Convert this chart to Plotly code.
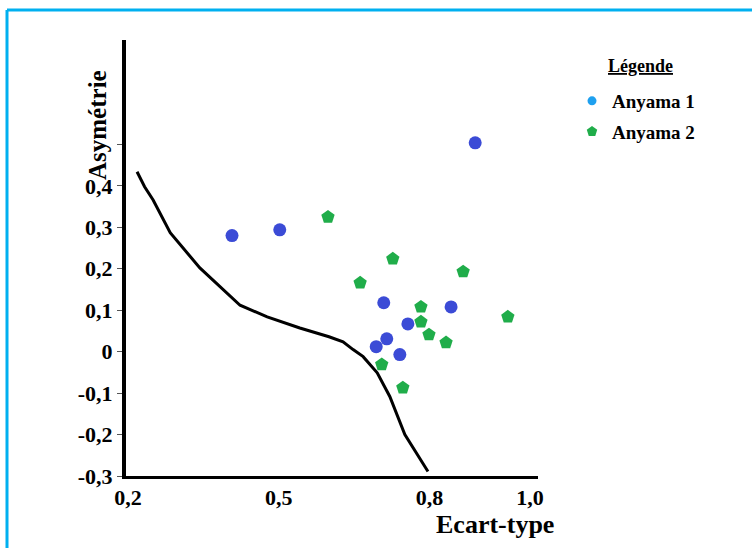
import plotly.graph_objects as go

# Courbe de référence (Ecart-type, Asymétrie)
curve_x = [0.218, 0.233, 0.250, 0.284, 0.343, 0.390, 0.423, 0.477, 0.542, 0.600, 0.628, 0.648, 0.668, 0.696, 0.721, 0.751, 0.797]
curve_y = [0.434, 0.398, 0.366, 0.287, 0.202, 0.150, 0.112, 0.084, 0.057, 0.036, 0.024, 0.005, -0.012, -0.051, -0.108, -0.200, -0.289]

# Anyama 1
a1_x = [0.891, 0.407, 0.502, 0.709, 0.843, 0.757, 0.715, 0.694, 0.741]
a1_y = [0.504, 0.280, 0.294, 0.118, 0.108, 0.067, 0.031, 0.012, -0.007]

# Anyama 2
a2_x = [0.598, 0.727, 0.867, 0.662, 0.783, 0.783, 0.799, 0.956, 0.833, 0.705, 0.747]
a2_y = [0.325, 0.224, 0.193, 0.166, 0.108, 0.072, 0.041, 0.084, 0.022, -0.031, -0.087]

x_tickvals = [0.2, 0.5, 0.8, 1.0]
x_ticktext = ["0,2", "0,5", "0,8", "1,0"]
y_tickvals = [-0.3, -0.2, -0.1, 0, 0.1, 0.2, 0.3, 0.4, 0.5]
y_ticktext = ["-0,3", "-0,2", "-0,1", "0", "0,1", "0,2", "0,3", "0,4", ""]

FONT = "Liberation Serif"
BLUE = "#3b4bd6"
GREEN = "#20ad4a"

L, R, T, B = 126, 538, 40, 476
W, H = R - L, B - T


def px(x):
    return (x - L) / W


def py(y):
    return (B - y) / H


fig = go.Figure()
fig.add_trace(go.Scatter(x=curve_x, y=curve_y, mode="lines",
                         line=dict(color="black", width=3),
                         showlegend=False, hoverinfo="skip"))
fig.add_trace(go.Scatter(x=a1_x, y=a1_y, mode="markers", showlegend=False,
                         marker=dict(symbol="circle", size=13, color=BLUE)))
fig.add_trace(go.Scatter(x=a2_x, y=a2_y, mode="markers", showlegend=False,
                         marker=dict(symbol="pentagon", size=14, color=GREEN)))
# legend entries
fig.add_trace(go.Scatter(x=[None], y=[None], mode="markers", name="Anyama 1", legendgroup="a1",
                         marker=dict(symbol="circle", size=9, color="#1ea0ef")))
fig.add_trace(go.Scatter(x=[None], y=[None], mode="markers", name="Anyama 2", legendgroup="a2",
                         marker=dict(symbol="pentagon", size=11, color=GREEN)))

fig.update_layout(
    width=752, height=548,
    margin=dict(l=L, r=752 - R, t=T, b=548 - B, autoexpand=False),
    paper_bgcolor="white", plot_bgcolor="white",
    font=dict(family=FONT, color="black"),
    showlegend=True,
    legend=dict(
        x=px(572), y=py(82), xanchor="left", yanchor="top",
        font=dict(size=19, family=FONT, weight="bold"),
        tracegroupgap=3, itemwidth=30,
        bgcolor="rgba(0,0,0,0)",
    ),
    xaxis=dict(range=[0.196, 1.016], tickvals=x_tickvals, ticktext=x_ticktext,
               showgrid=False, zeroline=False, showline=True, linecolor="black",
               linewidth=3, ticks="", tickfont=dict(size=22, family=FONT, weight="bold")),
    yaxis=dict(range=[-0.3, 0.752], tickvals=y_tickvals, ticktext=y_ticktext,
               showgrid=False, zeroline=False, showline=True, linecolor="black",
               linewidth=4, ticks="outside", ticklen=5, tickcolor="#555",
               tickfont=dict(size=22, family=FONT, weight="bold")),
)

fig.add_annotation(text="<b><u>Légende</u></b>", xref="paper", yref="paper",
                   x=px(640), y=py(66), xanchor="center", yanchor="middle", showarrow=False,
                   font=dict(size=18, family=FONT))
fig.add_annotation(text="<b>Ecart-type</b>", xref="paper", yref="paper",
                   x=px(495), y=py(524), xanchor="center", yanchor="middle", showarrow=False,
                   font=dict(size=26, family=FONT))
fig.add_annotation(text="<b>Asymétrie</b>", xref="paper", yref="paper",
                   x=px(97), y=py(125), xanchor="center", yanchor="middle", showarrow=False,
                   textangle=-90, font=dict(size=25, family=FONT))

# cadre bleu clair
fig.add_shape(type="line", xref="paper", yref="paper",
              x0=px(7), x1=px(7), y0=py(10), y1=py(560),
              line=dict(color="#00b0f0", width=3))
fig.add_shape(type="line", xref="paper", yref="paper",
              x0=px(7), x1=px(760), y0=py(10), y1=py(10),
              line=dict(color="#00b0f0", width=3))

fig.write_html("out.html", config={"displayModeBar": False},
               post_script="document.body.style.margin='0';document.body.style.overflow='hidden';")
